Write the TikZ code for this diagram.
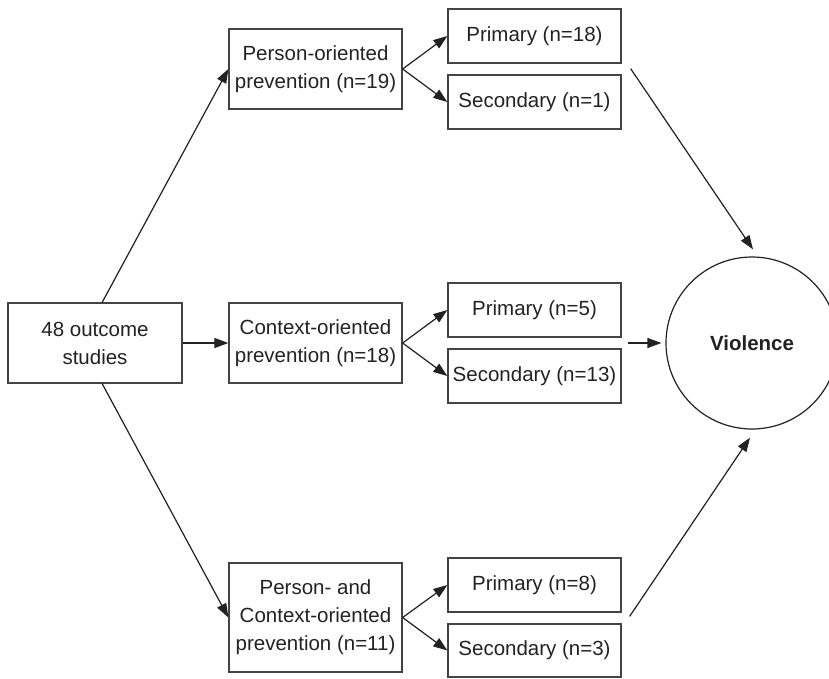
\documentclass[tikz,border=0pt]{standalone}
\usepackage{fontspec}
\setmainfont{Liberation Sans}
\usetikzlibrary{arrows.meta,calc}
\definecolor{ink}{HTML}{222222}
\definecolor{frame}{HTML}{444444}
\begin{document}
\begin{tikzpicture}[x=1pt,y=-1pt,
  box/.style={draw=frame,line width=1.3pt,rectangle,inner sep=0pt,minimum width=173pt,align=center,text=ink,font=\fontsize{20.5}{28}\selectfont},
  arr/.style={draw=ink,fill=ink,line width=1.2pt,-{Stealth[length=14pt,width=10pt,inset=0pt]}}]
\useasboundingbox (0,0) rectangle (829,678);
\clip (0,0) rectangle (829,678);
\node[box,minimum width=174pt,minimum height=80pt] (studies) at (95,343) {48 outcome\\studies};
\node[box,minimum height=80pt] (person) at (315.5,69) {Person-oriented\\prevention (n=19)};
\node[box,minimum height=80pt] (context) at (315.5,343) {Context-oriented\\prevention (n=18)};
\node[box,minimum height=109pt] (both) at (315.5,617.5) {Person- and\\Context-oriented\\prevention (n=11)};
\node[box,minimum height=54pt] (p1) at (534.5,36) {Primary (n=18)};
\node[box,minimum height=54pt] (s1) at (534.5,102) {Secondary (n=1)};
\node[box,minimum height=54pt] (p2) at (534.5,310) {Primary (n=5)};
\node[box,minimum height=54pt] (s2) at (534.5,376) {Secondary (n=13)};
\node[box,minimum height=54pt] (p3) at (534.5,585) {Primary (n=8)};
\node[box,minimum height=53pt] (s3) at (534.5,650.5) {Secondary (n=3)};
\node[circle,draw=ink,line width=1.2pt,minimum size=172pt,inner sep=0pt,text=ink,font=\fontsize{20.5}{24}\selectfont\bfseries] (viol) at (752,343) {Violence};
\coordinate (t1) at ($(p1.south east)+(9,5)$);
\coordinate (t1e) at ($(viol.north)+(1,-7)$);
\coordinate (t2) at (628,343);
\coordinate (t2e) at ($(viol.west)+(-4,0)$);
\coordinate (t3) at ($(s3.north east)+(8,-7)$);
\coordinate (t3e) at ($(viol.south)+(-2,8)$);
\draw[arr] (studies.80) -- (person.west);
\draw[arr] (studies.east) -- (context.west);
\draw[arr] (studies.-80) -- (both.west);
\draw[arr] (person.east) -- (p1.west);
\draw[arr] (person.east) -- (s1.west);
\draw[arr] (context.east) -- (p2.west);
\draw[arr] (context.east) -- (s2.west);
\draw[arr] (both.east) -- (p3.west);
\draw[arr] (both.east) -- (s3.west);
\draw[arr] (t1) -- (t1e);
\draw[arr] (t2) -- (t2e);
\draw[arr] (t3) -- (t3e);
\end{tikzpicture}
\end{document}
